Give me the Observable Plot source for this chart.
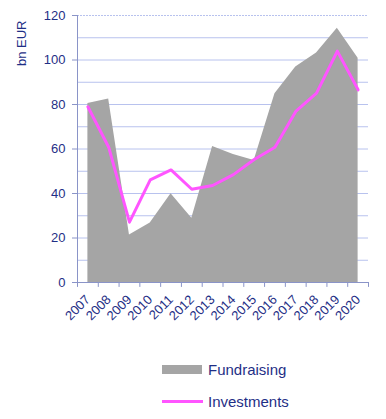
<!DOCTYPE html>
<html><head><meta charset="utf-8">
<script src="https://cdn.jsdelivr.net/npm/d3@7"></script>
<script src="https://cdn.jsdelivr.net/npm/@observablehq/plot@0.6"></script>
<style>
body{margin:0;background:#fff;font-family:"Liberation Sans",Arial,sans-serif;}
#wrap{position:relative;width:386px;height:419px;overflow:hidden;}
#wrap svg{position:absolute;left:0;top:0;}
.leg{position:absolute;left:162px;height:20px;display:flex;align-items:center;color:#1f2f86;font-size:15px;}
.sw{width:40px;height:9px;background:#a5a5a5;margin-right:6px;}
.ln{width:41px;height:3px;background:#ff55ff;margin-right:5px;}
[aria-label="y-axis tick"]{stroke:#8a94c8;}
</style></head><body><div id="wrap"></div>
<script>
const years = [2007,2008,2009,2010,2011,2012,2013,2014,2015,2016,2017,2018,2019,2020];
const fundraising = [80.5,82.5,21.4,26.7,39.9,28.9,61.1,57.5,54.8,84.8,96.8,103.2,114.3,100.8];
const investments = [79.0,60.8,27.1,46.1,50.6,41.9,43.6,48.5,55.3,60.8,76.9,85.1,104.0,86.6];
const yTicks = [0,20,40,60,80,100,120];
const gridValues = [10,20,30,40,50,60,70,80,90,100,110];
const topGrid = [120];
const seriesNames = ["Fundraising","Investments"];
const yLabel = "bn EUR";

const data = years.map((y,i)=>({year:y, fund:fundraising[i], inv:investments[i]}));
const bounds = years.map(y=>y-0.5).concat([years[years.length-1]+0.5]);
const navy = "#1f2f86";
const axisCol = "#8a94c8";

const chart = Plot.plot({
  width: 386,
  height: 340,
  marginLeft: 77,
  marginRight: 18,
  marginTop: 15,
  marginBottom: 58,
  style: {fontFamily: '"Liberation Sans", Arial, sans-serif', fontSize: "13px", color: navy, background: "#fff"},
  x: {domain: [bounds[0], bounds[bounds.length-1]], ticks: years, tickFormat: d=>String(d), tickRotate: -45, tickSize: 0, tickPadding: 15, label: null},
  y: {domain: [0,120], ticks: yTicks, tickSize: 5, tickPadding: 7, label: null},
  marks: [
    Plot.ruleY(gridValues, {stroke: "#b8c2ee", strokeWidth: 1}),
    Plot.ruleY(topGrid, {stroke: "#b8c2ee", strokeWidth: 1, strokeDasharray: "2,1"}),
    Plot.areaY(data, {x: "year", y: "fund", fill: "#a5a5a5"}),
    Plot.lineY(data, {x: "year", y: "inv", stroke: "#ff55ff", strokeWidth: 3}),
    Plot.ruleX([bounds[0]], {stroke: axisCol}),
    Plot.ruleY([0], {stroke: axisCol}),
    Plot.ruleX(bounds, {y1: 0, y2: -2.2, stroke: axisCol}),
    Plot.text([yLabel], {frameAnchor: "top-left", rotate: -90, textAnchor: "end", dx: -61, dy: 5, fontSize: 13, fill: navy})
  ]
});
const wrap = document.getElementById("wrap");
wrap.appendChild(chart);
const legY = [359, 391];
const cls = ["sw","ln"];
seriesNames.forEach((n,i)=>{
  const d = document.createElement("div");
  d.className = "leg";
  d.style.top = legY[i] + "px";
  d.innerHTML = '<span class="'+cls[i]+'"></span><span>'+n+'</span>';
  wrap.appendChild(d);
});
</script>
</body></html>
